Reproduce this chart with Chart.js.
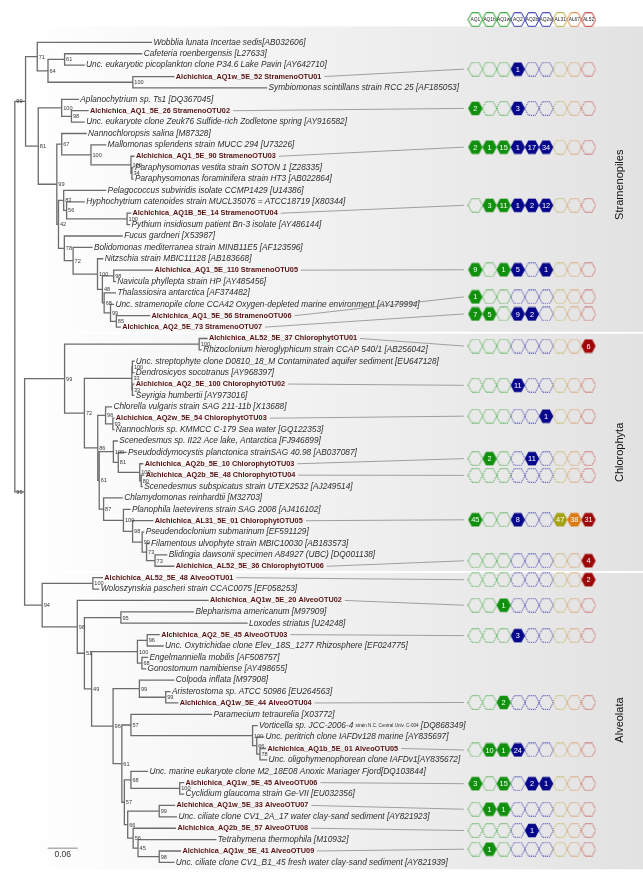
<!DOCTYPE html>
<html>
<head>
<meta charset="utf-8">
<script src="https://cdn.jsdelivr.net/npm/chart.js@4.4.1/dist/chart.umd.min.js"></script>
<style>
    html, body { margin: 0; padding: 0; background: #fff; }
    #wrap { width: 643px; height: 881px; }
</style>
</head>
<body>
<div id="wrap"><canvas id="tree" width="643" height="881"></canvas></div>
<script>
// taxa in the order they appear down the tree (index = row)
const taxa = [
    'Wobblia lunata Incertae sedis[AB032606]',
    'Cafeteria roenbergensis [L27633]',
    'Unc. eukaryotic picoplankton clone P34.6 Lake Pavin [AY642710]',
    'Alchichica_AQ1w_5E_52 StramenoOTU01',
    'Symbiomonas scintillans strain RCC 25 [AF185053]',
    'Aplanochytrium sp. Ts1 [DQ367045]',
    'Alchichica_AQ1_5E_26 StramenoOTU02',
    'Unc. eukaryote clone Zeuk76 Sulfide-rich Zodletone spring [AY916582]',
    'Nannochloropsis salina [M87328]',
    'Mallomonas splendens strain MUCC 294 [U73226]',
    'Alchichica_AQ1_5E_90 StramenoOTU03',
    'Paraphysomonas vestita strain SOTON 1 [Z28335]',
    'Paraphysomonas foraminifera strain HT3 [AB022864]',
    'Pelagococcus subviridis isolate CCMP1429 [U14386]',
    'Hyphochytrium catenoides strain MUCL35076 = ATCC18719 [X80344]',
    'Alchichica_AQ1B_5E_14 StramenoOTU04',
    'Pythium insidiosum patient Bn-3 isolate [AY486144]',
    'Fucus gardneri [X53987]',
    'Bolidomonas mediterranea strain MINB11E5 [AF123596]',
    'Nitzschia strain MBIC11128 [AB183668]',
    'Alchichica_AQ1_5E_110 StramenoOTU05',
    'Navicula phyllepta strain HP [AY485456]',
    'Thalassiosira antarctica [AF374482]',
    'Unc. stramenopile clone CCA42 Oxygen-depleted marine environment [AY179994]',
    'Alchichica_AQ1_5E_56 StramenoOTU06',
    'Alchichica_AQ2_5E_73 StramenoOTU07',
    'Alchichica_AL52_5E_37 ChlorophytOTU01',
    'Rhizoclonium hieroglyphicum strain CCAP 540/1 [AB256042]',
    'Unc. streptophyte clone D0810_18_M Contaminated aquifer sediment [EU647128]',
    'Dendrosicyos socotranus [AY968397]',
    'Alchichica_AQ2_5E_100 ChlorophytOTU02',
    'Seyrigia humbertii [AY973016]',
    'Chlorella vulgaris strain SAG 211-11b [X13688]',
    'Alchichica_AQ2w_5E_54 ChlorophytOTU03',
    'Nannochloris sp. KMMCC C-179 Sea water [GQ122353]',
    'Scenedesmus sp. II22 Ace lake, Antarctica [FJ946899]',
    'Pseudodidymocystis planctonica strainSAG 40.98 [AB037087]',
    'Alchichica_AQ2b_5E_10 ChlorophytOTU03',
    'Alchichica_AQ2b_5E_48 ChlorophytOTU04',
    'Scenedesmus subspicatus strain UTEX2532 [AJ249514]',
    'Chlamydomonas reinhardtii [M32703]',
    'Planophila laetevirens strain SAG 2008 [AJ416102]',
    'Alchichica_AL31_5E_01 ChlorophytOTU05',
    'Pseudendoclonium submarinum [EF591129]',
    'Filamentous ulvophyte strain MBIC10030 [AB183573]',
    'Blidingia dawsonii specimen A84927 (UBC) [DQ001138]',
    'Alchichica_AL52_5E_36 ChlorophytOTU06',
    'Alchichica_AL52_5E_48 AlveoOTU01',
    'Woloszynskia pascheri strain CCAC0075 [EF058253]',
    'Alchichica_AQ1w_5E_20 AlveoOTU02',
    'Blepharisma americanum [M97909]',
    'Loxodes striatus [U24248]',
    'Alchichica_AQ2_5E_45 AlveoOTU03',
    'Unc. Oxytrichidae clone Elev_18S_1277 Rhizosphere [EF024775]',
    'Engelmanniella mobilis [AF508757]',
    'Gonostomum namibiense [AY498655]',
    'Colpoda inflata [M97908]',
    'Aristerostoma sp. ATCC 50986 [EU264563]',
    'Alchichica_AQ1w_5E_44 AlveoOTU04',
    'Paramecium tetraurelia [X03772]',
    'Vorticella sp. JCC-2006-4 {strain N.C. Central Univ. C-004} [DQ868349]',
    'Unc. peritrich clone IAFDv128 marine [AY835697]',
    'Alchichica_AQ1b_5E_01 AlveoOTU05',
    'Unc. oligohymenophorean clone IAFDv1[AY835672]',
    'Unc. marine eukaryote clone M2_18E08 Anoxic Mariager Fjord[DQ103844]',
    'Alchichica_AQ1w_5E_45 AlveoOTU06',
    'Cyclidium glaucoma strain Ge-VII [EU032356]',
    'Alchichica_AQ1w_5E_33 AlveoOTU07',
    'Unc. ciliate clone CV1_2A_17 water clay-sand sediment [AY821923]',
    'Alchichica_AQ2b_5E_57 AlveoOTU08',
    'Tetrahymena thermophila [M10932]',
    'Alchichica_AQ1w_5E_41 AlveoOTU09',
    'Unc. ciliate clone CV1_B1_45 fresh water clay-sand sediment [AY821939]'
];

// newick subtrees, leaves are taxa indices, node labels are bootstrap values
const stramenopilesTree = '((0:0.2264,((1:0.1529,2:0.0387)61:0.0329,(3:0.0813,4:0.2651)100:0.1683)64:0.0213)71:0.0232,((5:0.0329,(6:0.0329,7:0.0252)98:0.0194)100:0.0464,((8:0.0484,(9:0.0290,(10:0.0058,(11:0.0019,12:0.0019)34:0.0019)100:0.0793)100:0.0581)67:0.0097,((13:0.0832,(14:0.0348,(15:0.0068,16:0.0048)100:0.1200)56:0.0058)83:0.0103,(17:0.1147,(18:0.0373,(19:0.0103,((20:0.0768,21:0.0033)98:0.0224,(22:0.0223,(23:0.0058,(24:0.0658,25:0.0077)85:0.0116)99:0.0126)68:0.0035)48:0.0097)100:0.0484)72:0.0174)78:0.0116)42:0.0033)99:0.0368)81:0.0252)99:0.0213';
const chlorophytaTree = '((26:0.0155,27:0.0039)100:0.2670,(((28:0.0029,29:0.0029)100:0.0010,(30:0.0029,31:0.0029)33:0.0010)33:0.0942,((32:0.0116,(33:0.0019,34:0.0019)93:0.0145)96:0.0155,((35:0.0077,(36:0.0155,(37:0.0058,(38:0.0048,39:0.0019)80:0.0029)100:0.0426)81:0.0097)100:0.0281,(40:0.0368,(41:0.0130,(42:0.0399,(43:0.0029,(44:0.0048,(45:0.0232,46:0.0373)73:0.0168)73:0.0087)99:0.0190)98:0.0182)100:0.0393)87:0.0087)61:0.0029)86:0.0265)72:0.0393)99:0.0793';
const alveolataTree = '((47:0.0188,48:0.0116)100:0.1006,(49:0.2593,((50:0.1438,51:0.2502)95:0.0724,(((52:0.0238,53:0.0315)96:0.0194,(54:0.0110,55:0.0072)68:0.0089)100:0.0909,((56:0.0683,(57:0.0083,58:0.0238)99:0.0522)99:0.0522,((59:0.1596,(60:0.0089,(61:0.0135,(62:0.0110,63:0.0130)78:0.0064)66:0.0083)100:0.2413)57:0.0180,((64:0.0329,(65:0.0077,66:0.0077)100:0.0968)68:0.0130,((67:0.0304,68:0.0342)99:0.0625,(69:0.0840,(70:0.1542,(71:0.0420,72:0.0290)98:0.0420)45:0.0097)56:0.0108)66:0.0066)57:0.0050)61:0.0174)96:0.0426)49:0.0143)51:0.0141)98:0.0697)94:0.0348';
const fullTree = `(${stramenopilesTree},(${chlorophytaTree},${alveolataTree})99:0.0194);`;

const groupNames = ['Stramenopiles', 'Chlorophyta', 'Alveolata'];
const groupFirstTaxon = [0, 26, 47];

// sample columns and OTU read counts
const samples = ['AQ1', 'AQ1b', 'AQ1w', 'AQ2', 'AQ2b', 'AQ2w', 'AL31', 'AL67', 'AL52'];
const otuTaxon = [3, 6, 10, 15, 20, 24, 25, 26, 30, 33, 37, 38, 42, 46, 47, 49, 52, 58, 62, 65, 67, 69, 71];
const otuRowAt = [2.35, 5.80, 9.20, 14.31, 19.97, 22.35, 23.85, 26.66, 30.11, 32.82, 36.55, 38.02, 41.92, 45.52,
                  47.18, 49.42, 52.09, 57.96, 62.13, 65.09, 67.33, 69.20, 70.84];
const otuCounts = [
    [0, 0, 0, 1, 0, 0, 0, 0, 0],
    [2, 0, 0, 3, 0, 0, 0, 0, 0],
    [2, 1, 15, 1, 17, 34, 0, 0, 0],
    [0, 3, 11, 1, 2, 12, 0, 0, 0],
    [9, 0, 1, 5, 0, 1, 0, 0, 0],
    [1, 0, 0, 0, 0, 0, 0, 0, 0],
    [7, 5, 0, 9, 2, 0, 0, 0, 0],
    [0, 0, 0, 0, 0, 0, 0, 0, 6],
    [0, 0, 0, 11, 0, 0, 0, 0, 0],
    [0, 0, 0, 0, 0, 1, 0, 0, 0],
    [0, 2, 0, 0, 11, 0, 0, 0, 0],
    [0, 0, 0, 0, 0, 0, 0, 0, 0],
    [45, 0, 0, 8, 0, 0, 47, 38, 31],
    [0, 0, 0, 0, 0, 0, 0, 0, 4],
    [0, 0, 0, 0, 0, 0, 0, 0, 2],
    [0, 0, 1, 0, 0, 0, 0, 0, 0],
    [0, 0, 0, 3, 0, 0, 0, 0, 0],
    [0, 0, 2, 0, 0, 0, 0, 0, 0],
    [0, 10, 1, 24, 0, 0, 0, 0, 0],
    [3, 0, 15, 0, 2, 1, 0, 0, 0],
    [0, 1, 1, 0, 0, 0, 0, 0, 0],
    [0, 0, 0, 0, 1, 0, 0, 0, 0],
    [0, 1, 0, 0, 0, 0, 0, 0, 0]
];
const scaleBarLength = 0.06;

const sampleFill = ['#11900e', '#11900e', '#11900e', '#07078c', '#07078c', '#07078c', '#a2a214', '#dc7a12', '#9c0808'];
const sampleLine = ['#1f981f', '#1f981f', '#1f981f', '#2a2aa8', '#2a2aa8', '#2a2aa8', '#b8a838', '#d8843c', '#bc2e2e'];
const FONT = '"Liberation Sans", Arial, sans-serif';

/**
 * Parse a newick string into nested nodes
 */
function parseNewick(str) {
    let pos = 0;
    function readNode() {
        const node = { children: [], support: null, length: 0 };
        if (str[pos] === '(') {
            pos++;
            node.children.push(readNode());
            while (str[pos] === ',') {
                pos++;
                node.children.push(readNode());
            }
            pos++; // closing bracket
        }
        let label = '';
        while (pos < str.length && !',():;'.includes(str[pos])) label += str[pos++];
        if (str[pos] === ':') {
            pos++;
            let len = '';
            while (pos < str.length && !',();'.includes(str[pos])) len += str[pos++];
            node.length = parseFloat(len);
        }
        if (node.children.length) node.support = label || null;
        else node.taxon = parseInt(label, 10);
        return node;
    }
    return readNode();
}

const root = parseNewick(fullTree);
const allNodes = [];

function layout(node, parentDepth, parent) {
    node.parent = parent;
    node.depth = parentDepth + node.length;
    allNodes.push(node);
    if (node.children.length) {
        node.children.forEach(c => layout(c, node.depth, node));
        node.y = (node.children[0].y + node.children[node.children.length - 1].y) / 2;
    } else {
        node.y = node.taxon;
    }
}
layout(root, 0, null);

// branch segments, broken by null points
const branchPoints = [];
allNodes.forEach(node => {
    if (node.parent) {
        branchPoints.push({ x: node.parent.depth, y: node.y }, { x: node.depth, y: node.y }, { x: node.depth, y: null });
    }
    if (node.children.length) {
        const first = node.children[0];
        const last = node.children[node.children.length - 1];
        branchPoints.push({ x: node.depth, y: first.y }, { x: node.depth, y: last.y }, { x: node.depth, y: null });
    }
});

/**
 * Hexagon images used as point styles
 */
function makeHex(fill, stroke, dashed) {
    const c = document.createElement('canvas');
    c.width = 16;
    c.height = 15;
    const g = c.getContext('2d');
    const cx = 8, cy = 7.5, w = 7.2, h = 6.8;
    g.beginPath();
    g.moveTo(cx - w, cy);
    g.lineTo(cx - w / 2, cy - h);
    g.lineTo(cx + w / 2, cy - h);
    g.lineTo(cx + w, cy);
    g.lineTo(cx + w / 2, cy + h);
    g.lineTo(cx - w / 2, cy + h);
    g.closePath();
    if (fill) {
        g.fillStyle = fill;
        g.fill();
    } else {
        g.strokeStyle = stroke;
        g.lineWidth = 1;
        if (dashed) g.setLineDash([1, 1]);
        g.stroke();
    }
    return c;
}

const hexFilled = sampleFill.map(c => makeHex(c, null, false));
const hexEmpty = sampleLine.map(c => makeHex(null, c, true));
const hexHeader = sampleLine.map(c => makeHex(null, c, false));

const headerRow = groupFirstTaxon[0] - 2;

const hexDatasets = samples.map((s, si) => ({
    label: s,
    xAxisID: 'xh',
    yAxisID: 'y',
    data: otuRowAt.map(r => ({ x: si, y: r })),
    pointRadius: 7,
    pointStyle: ctx => (otuCounts[ctx.dataIndex][si] > 0 ? hexFilled[si] : hexEmpty[si]),
    showLine: false
}));

const headerDataset = {
    label: 'samples',
    xAxisID: 'xh',
    yAxisID: 'y',
    data: samples.map((s, si) => ({ x: si, y: headerRow })),
    pointRadius: 7,
    pointStyle: ctx => hexHeader[ctx.dataIndex],
    showLine: false
};

const lastTaxon = taxa.length - 1;
const scaleBarStart = 0.065;
const scaleBarRow = lastTaxon - 1.25;

const bandsPlugin = {
    id: 'bands',
    beforeDatasetsDraw(chart) {
        const { ctx, scales: { y } } = chart;
        ctx.save();
        ctx.fillStyle = '#ffffff';
        ctx.fillRect(0, 0, chart.width, chart.height);
        const grad = ctx.createLinearGradient(20, 0, chart.width, 0);
        grad.addColorStop(0, '#ffffff');
        grad.addColorStop(1, '#e2e2e2');
        ctx.fillStyle = grad;
        groupFirstTaxon.forEach((first, g) => {
            const last = g < groupFirstTaxon.length - 1 ? groupFirstTaxon[g + 1] - 1 : lastTaxon;
            const top = y.getPixelForValue(first - (g === 0 ? 1.4 : 0.42));
            const bottom = y.getPixelForValue(last + (g === groupFirstTaxon.length - 1 ? 0.6 : 0.42));
            ctx.fillRect(0, top, chart.width, bottom - top);
        });
        ctx.restore();
    }
};

function drawTaxon(ctx, name, px, py) {
    if (name.startsWith('Alchichica')) {
        ctx.font = 'bold 7.3px ' + FONT;
        ctx.fillStyle = '#561212';
        ctx.fillText(name, px, py);
        return px + ctx.measureText(name).width;
    }
    ctx.fillStyle = '#2e2e2e';
    let cur = px;
    name.split(/[{}]/).forEach((part, i) => {
        ctx.font = i % 2 ? '4.6px ' + FONT : 'italic 8.3px ' + FONT;
        ctx.fillText(part, cur, py);
        cur += ctx.measureText(part).width;
    });
    return cur;
}

const labelsPlugin = {
    id: 'treeLabels',
    afterDatasetsDraw(chart) {
        const { ctx, scales: { x, y, xh } } = chart;
        ctx.save();
        ctx.textBaseline = 'middle';
        ctx.textAlign = 'left';

        // bootstrap values
        ctx.font = '5.6px ' + FONT;
        ctx.fillStyle = '#3a3a3a';
        allNodes.forEach(node => {
            if (!node.support || !node.parent) return;
            const at = node.parent === root ? root.depth : node.depth;
            ctx.fillText(node.support, x.getPixelForValue(at) + 1.5, y.getPixelForValue(node.y) + 0.5);
        });

        // leaf names and connectors to the hexagon rows
        const textEnd = {};
        allNodes.forEach(node => {
            if (node.children.length) return;
            textEnd[node.taxon] = drawTaxon(ctx, taxa[node.taxon], x.getPixelForValue(node.depth) + 2, y.getPixelForValue(node.taxon));
        });
        ctx.strokeStyle = '#8a8a8a';
        ctx.lineWidth = 0.8;
        otuTaxon.forEach((t, r) => {
            ctx.beginPath();
            ctx.moveTo(textEnd[t] + 3, y.getPixelForValue(t));
            ctx.lineTo(xh.getPixelForValue(-0.82), y.getPixelForValue(otuRowAt[r]));
            ctx.stroke();
        });

        // counts inside hexagons
        ctx.textAlign = 'center';
        ctx.font = '7.4px ' + FONT;
        ctx.fillStyle = '#ffffff';
        samples.forEach((s, si) => {
            const meta = chart.getDatasetMeta(si + 3);
            meta.data.forEach((pt, r) => {
                const v = otuCounts[r][si];
                if (v > 0) ctx.fillText(String(v), pt.x, pt.y + 0.5);
            });
        });

        // header sample names
        ctx.font = '4.8px ' + FONT;
        ctx.fillStyle = '#222';
        chart.getDatasetMeta(2).data.forEach((pt, si) => {
            ctx.fillText(samples[si], pt.x, pt.y + 0.3);
        });

        // scale bar label
        ctx.font = '8.5px ' + FONT;
        ctx.fillStyle = '#333';
        ctx.fillText(String(scaleBarLength), x.getPixelForValue(scaleBarStart + scaleBarLength / 2), y.getPixelForValue(scaleBarRow + 0.55));

        // group names
        ctx.font = '11px ' + FONT;
        ctx.fillStyle = '#111';
        groupNames.forEach((g, gi) => {
            const first = groupFirstTaxon[gi];
            const last = gi < groupNames.length - 1 ? groupFirstTaxon[gi + 1] - 1 : lastTaxon;
            ctx.save();
            ctx.translate(xh.getPixelForValue(samples.length + 1.2), y.getPixelForValue((first + last) / 2));
            ctx.rotate(-Math.PI / 2);
            ctx.fillText(g, 0, 0);
            ctx.restore();
        });
        ctx.restore();
    }
};

new Chart(document.getElementById('tree'), {
    type: 'scatter',
    data: {
        datasets: [
            {
                label: 'branches',
                data: branchPoints,
                showLine: true,
                spanGaps: false,
                borderColor: '#6c6c6c',
                borderWidth: 1.3,
                pointRadius: 0,
                borderCapStyle: 'square'
            },
            {
                label: 'scale',
                data: [{ x: scaleBarStart, y: scaleBarRow }, { x: scaleBarStart + scaleBarLength, y: scaleBarRow }],
                showLine: true,
                borderColor: '#8a8a8a',
                borderWidth: 1,
                pointRadius: 0
            },
            headerDataset,
            ...hexDatasets
        ]
    },
    options: {
        responsive: false,
        animation: false,
        events: [],
        layout: { padding: 0 },
        plugins: {
            legend: { display: false },
            tooltip: { enabled: false }
        },
        scales: {
            x: { type: 'linear', display: false, min: -7 / 517, max: 636 / 517 },
            xh: { type: 'linear', display: false, min: -479.3 / 14.5, max: (643 - 479.3) / 14.5 },
            y: { type: 'linear', display: false, reverse: true, min: -35 / 11.6, max: 846 / 11.6 }
        }
    },
    plugins: [bandsPlugin, labelsPlugin]
});
</script>
</body>
</html>
